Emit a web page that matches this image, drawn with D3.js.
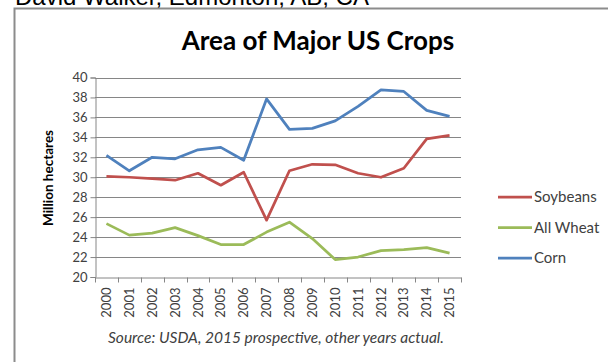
<!DOCTYPE html>
<html>
<head>
<meta charset="utf-8">
<script src="https://cdn.jsdelivr.net/npm/d3@7"></script>
<style>
body { margin: 0; background: #fff; }
text { font-family: Lato, "Open Sans", sans-serif; }
</style>
</head>
<body>
<div id="chart"></div>
<script>
// size of SVG
var w = 608;
var h = 362;

// data, million hectares
var years = ["2000","2001","2002","2003","2004","2005","2006","2007",
             "2008","2009","2010","2011","2012","2013","2014","2015"];
var soybeans = [30.1, 30.0, 29.85, 29.7, 30.4, 29.2, 30.5, 25.7, 30.65, 31.3, 31.25, 30.4, 30.0, 30.9, 33.85, 34.2];
var wheat    = [25.35, 24.2, 24.4, 24.95, 24.15, 23.25, 23.25, 24.5, 25.5, 23.85, 21.75, 22.0, 22.65, 22.75, 22.95, 22.4];
var corn     = [32.2, 30.65, 32.0, 31.85, 32.75, 33.0, 31.7, 37.85, 34.8, 34.9, 35.65, 37.1, 38.75, 38.6, 36.7, 36.1];
var yTicks = [20,22,24,26,28,30,32,34,36,38,40];

var series = [
  {name: "Soybeans",  values: soybeans, color: "#c0504d"},
  {name: "All Wheat", values: wheat,    color: "#9bbb59"},
  {name: "Corn",      values: corn,     color: "#4f81bd"}
];

var svg = d3.select("#chart").append("svg")
  .attr("width", w)
  .attr("height", h);

// text above the chart, cut off by the top edge as in the picture
svg.append("text")
  .attr("x", 15).attr("y", 5)
  .style("font-family", "'Liberation Sans', Arial, sans-serif")
  .style("font-size", "24px")
  .attr("fill", "#000")
  .text("David Walker, Edmonton, AB, CA");

// chart frame (only left and top edges are in view)
svg.append("path")
  .attr("d", "M14.5,362 L14.5,8.5 L608,8.5")
  .attr("fill", "none")
  .attr("stroke", "#8c8c8c")
  .attr("stroke-width", 2);

// plot area
var x = d3.scaleBand().domain(years).range([95, 461]);
var y = d3.scaleLinear().domain([20, 40]).range([277, 77.5]);

// gridlines
svg.append("g")
  .selectAll("line")
  .data(yTicks.slice(1))
  .join("line")
  .attr("x1", 95).attr("x2", 461)
  .attr("y1", function(d) { return Math.round(y(d)) + 0.5; })
  .attr("y2", function(d) { return Math.round(y(d)) + 0.5; })
  .attr("stroke", "#868686")
  .attr("stroke-width", 1);

// y axis
var yAxis = svg.append("g")
  .attr("transform", "translate(95.5,0)")
  .call(d3.axisLeft(y).tickValues(yTicks).tickSize(5).tickPadding(3));
yAxis.select(".domain").attr("stroke", "#868686");
yAxis.selectAll(".tick line").attr("stroke", "#868686");
yAxis.selectAll(".tick text")
  .style("font-size", "13px")
  .attr("fill", "#404040");

// x axis
var xAxis = svg.append("g")
  .attr("transform", "translate(0," + (Math.round(y(20)) + 0.5) + ")")
  .call(d3.axisBottom(x).tickSize(0).tickPadding(0));
xAxis.select(".domain").attr("stroke", "#868686");
xAxis.selectAll(".tick text")
  .attr("transform", "rotate(-90)")
  .attr("x", -10).attr("y", 0).attr("dy", "0.35em")
  .style("text-anchor", "end")
  .style("font-size", "13px")
  .attr("fill", "#404040");
// tick marks at category boundaries
xAxis.append("g")
  .selectAll("line")
  .data(years.concat(["end"]))
  .join("line")
  .attr("x1", function(d, i) { return Math.round(x.range()[0] + i * x.step()) + 0.5; })
  .attr("x2", function(d, i) { return Math.round(x.range()[0] + i * x.step()) + 0.5; })
  .attr("y1", 0).attr("y2", 5)
  .attr("stroke", "#868686");

// lines
var line = d3.line()
  .x(function(d, i) { return x(years[i]) + x.bandwidth() / 2; })
  .y(function(d) { return y(d); });

svg.append("g")
  .selectAll("path")
  .data(series)
  .join("path")
  .attr("d", function(s) { return line(s.values); })
  .attr("fill", "none")
  .attr("stroke", function(s) { return s.color; })
  .attr("stroke-width", 2.75)
  .attr("stroke-linejoin", "round");

// title
svg.append("text")
  .attr("x", 318).attr("y", 50)
  .attr("text-anchor", "middle")
  .style("font-size", "26px")
  .style("font-weight", "bold")
  .attr("fill", "#000")
  .text("Area of Major US Crops");

// y axis title
svg.append("text")
  .attr("transform", "translate(53,178) rotate(-90)")
  .attr("text-anchor", "middle")
  .style("font-size", "13.5px")
  .style("font-weight", "bold")
  .attr("fill", "#000")
  .text("Million hectares");

// legend
var legend = svg.append("g")
  .selectAll("g")
  .data(series)
  .join("g")
  .attr("transform", function(d, i) { return "translate(498," + (197 + i * 30.5) + ")"; });
legend.append("line")
  .attr("x1", 0).attr("x2", 34)
  .attr("stroke", function(d) { return d.color; })
  .attr("stroke-width", 2.75);
legend.append("text")
  .attr("x", 36).attr("dy", "0.35em")
  .style("font-size", "15px")
  .attr("fill", "#404040")
  .text(function(d) { return d.name; });

// source note
svg.append("text")
  .attr("x", 276).attr("y", 343)
  .attr("text-anchor", "middle")
  .style("font-size", "15.5px")
  .style("font-style", "italic")
  .attr("fill", "#404040")
  .text("Source: USDA, 2015 prospective, other years actual.");
</script>
</body>
</html>
